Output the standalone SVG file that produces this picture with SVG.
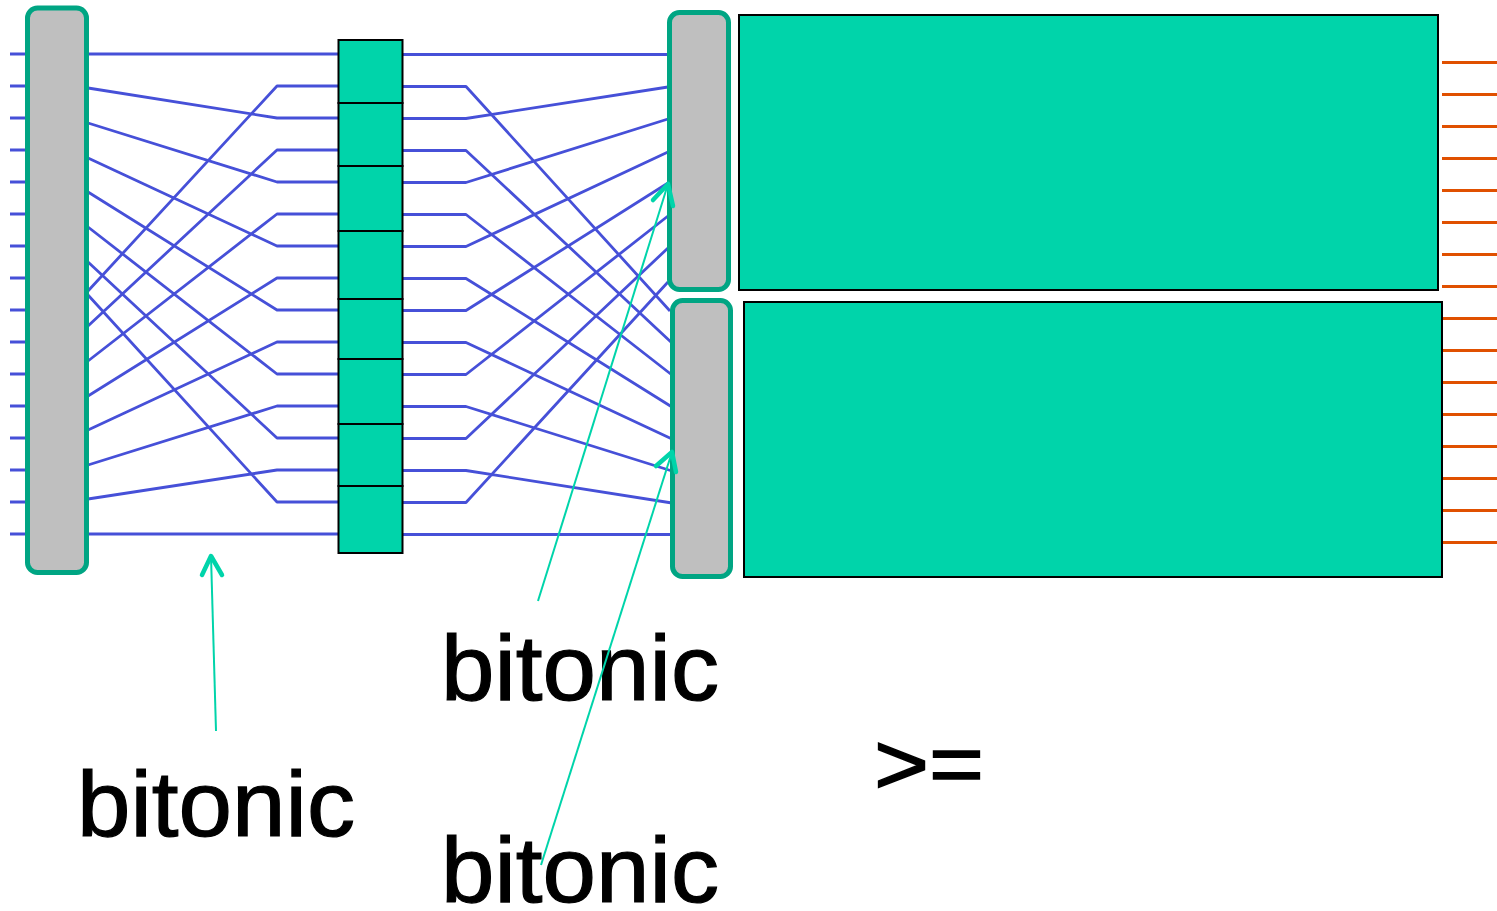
<svg xmlns="http://www.w3.org/2000/svg" width="1497" height="911" viewBox="0 0 1497 911">
<style>
.w{fill:none;stroke:#4650D8;stroke-width:2.800;stroke-linejoin:round}
.o{fill:none;stroke:#E05000;stroke-width:2.800}
.b{fill:#BFBFBF;stroke:#00A583;stroke-width:5}
.g{fill:#00D4AA;stroke:#000;stroke-width:2}
.a{fill:none;stroke:#00D4AA;stroke-width:2}
.h{fill:none;stroke:#00D4AA;stroke-width:4.500;stroke-linecap:round;stroke-linejoin:round}
text{font-family:"Liberation Sans",Arial,sans-serif;font-size:92px;fill:#000;stroke:#000;stroke-width:1.200}
</style>
<g id="connectors">
<path id="inputs" class="w" d="M10 54H25M10 86H25M10 118H25M10 150H25M10 182H25M10 214H25M10 246H25M10 278H25M10 310H25M10 342H25M10 374H25M10 406H25M10 438H25M10 470H25M10 502H25M10 534H25"/>
<path id="stage1" class="w" d="M88 54H338M88 88L277 118H338M88 123L277 182H338M88 158L277 246H338M88 192L277 310H338M88 227L277 374H338M88 262L277 438H338M88 295L277 502H338M88 291L277 86H338M88 326L277 150H338M88 361L277 214H338M88 396L277 278H338M88 430L277 342H338M88 465L277 406H338M88 499L277 470H338M88 534H338"/>
<path id="stage2" class="w" d="M403 54.500H670M403 86.500H466L670 311M403 118.500H466L668 87M403 150.500H466L672 343M403 182.500H466L668 119M403 214.500H466L672 375M403 246.500H466L668 152M403 278.500H466L672 407M403 310.500H466L668 183M403 342.500H466L672 439M403 374.500H466L668 216M403 406.500H466L672 471M403 438.500H466L668 248M403 470.500H466L672 503M403 502.500H466L668 282M403 534.500H672"/>
<path id="outputs" class="o" d="M1442 62.500H1497M1442 94.500H1497M1442 126.500H1497M1442 158.500H1497M1442 190.500H1497M1442 222.500H1497M1442 254.500H1497M1442 286.500H1497M1442 318.500H1497M1442 350.500H1497M1442 382.500H1497M1442 414.500H1497M1442 446.500H1497M1442 478.500H1497M1442 510.500H1497M1442 542.500H1497"/>
</g>
<g id="bar-left"><rect class="b" x="27.500" y="8" width="59" height="564.500" rx="10"/></g>
<g id="column">
<rect class="g" x="338.500" y="40" width="64" height="63"/>
<rect class="g" x="338.500" y="103" width="64" height="63"/>
<rect class="g" x="338.500" y="166" width="64" height="65"/>
<rect class="g" x="338.500" y="231" width="64" height="68"/>
<rect class="g" x="338.500" y="299" width="64" height="60"/>
<rect class="g" x="338.500" y="359" width="64" height="65"/>
<rect class="g" x="338.500" y="424" width="64" height="62"/>
<rect class="g" x="338.500" y="486" width="64" height="67"/>
</g>
<g id="bar-top"><rect class="b" x="669.500" y="12.500" width="59" height="277" rx="10"/></g>
<g id="bar-bottom"><rect class="b" x="672.500" y="300.500" width="58" height="276" rx="10"/></g>
<g id="block-top"><rect class="g" x="739" y="15" width="699" height="275"/></g>
<g id="block-bottom"><rect class="g" x="744" y="302" width="698" height="275"/></g>
<g id="labels">
<text x="77" y="836" textLength="278" lengthAdjust="spacingAndGlyphs">bitonic</text>
<text x="441" y="700" textLength="278" lengthAdjust="spacingAndGlyphs">bitonic</text>
<text x="441" y="902" textLength="278" lengthAdjust="spacingAndGlyphs">bitonic</text>
<text x="874" y="794" textLength="110" lengthAdjust="spacingAndGlyphs" style="font-size:88px;stroke-width:1.500">&gt;=</text>
</g>
<g id="arrows">
<path class="a" d="M216 731L211 556"/><path class="h" d="M202 575L211 556L222 575"/>
<path class="a" d="M538 601L668 184"/><path class="h" d="M653 200L668 184L673 206"/>
<path class="a" d="M541 865L672 452"/><path class="h" d="M656 466L672 452L676 472"/>
</g>
</svg>
